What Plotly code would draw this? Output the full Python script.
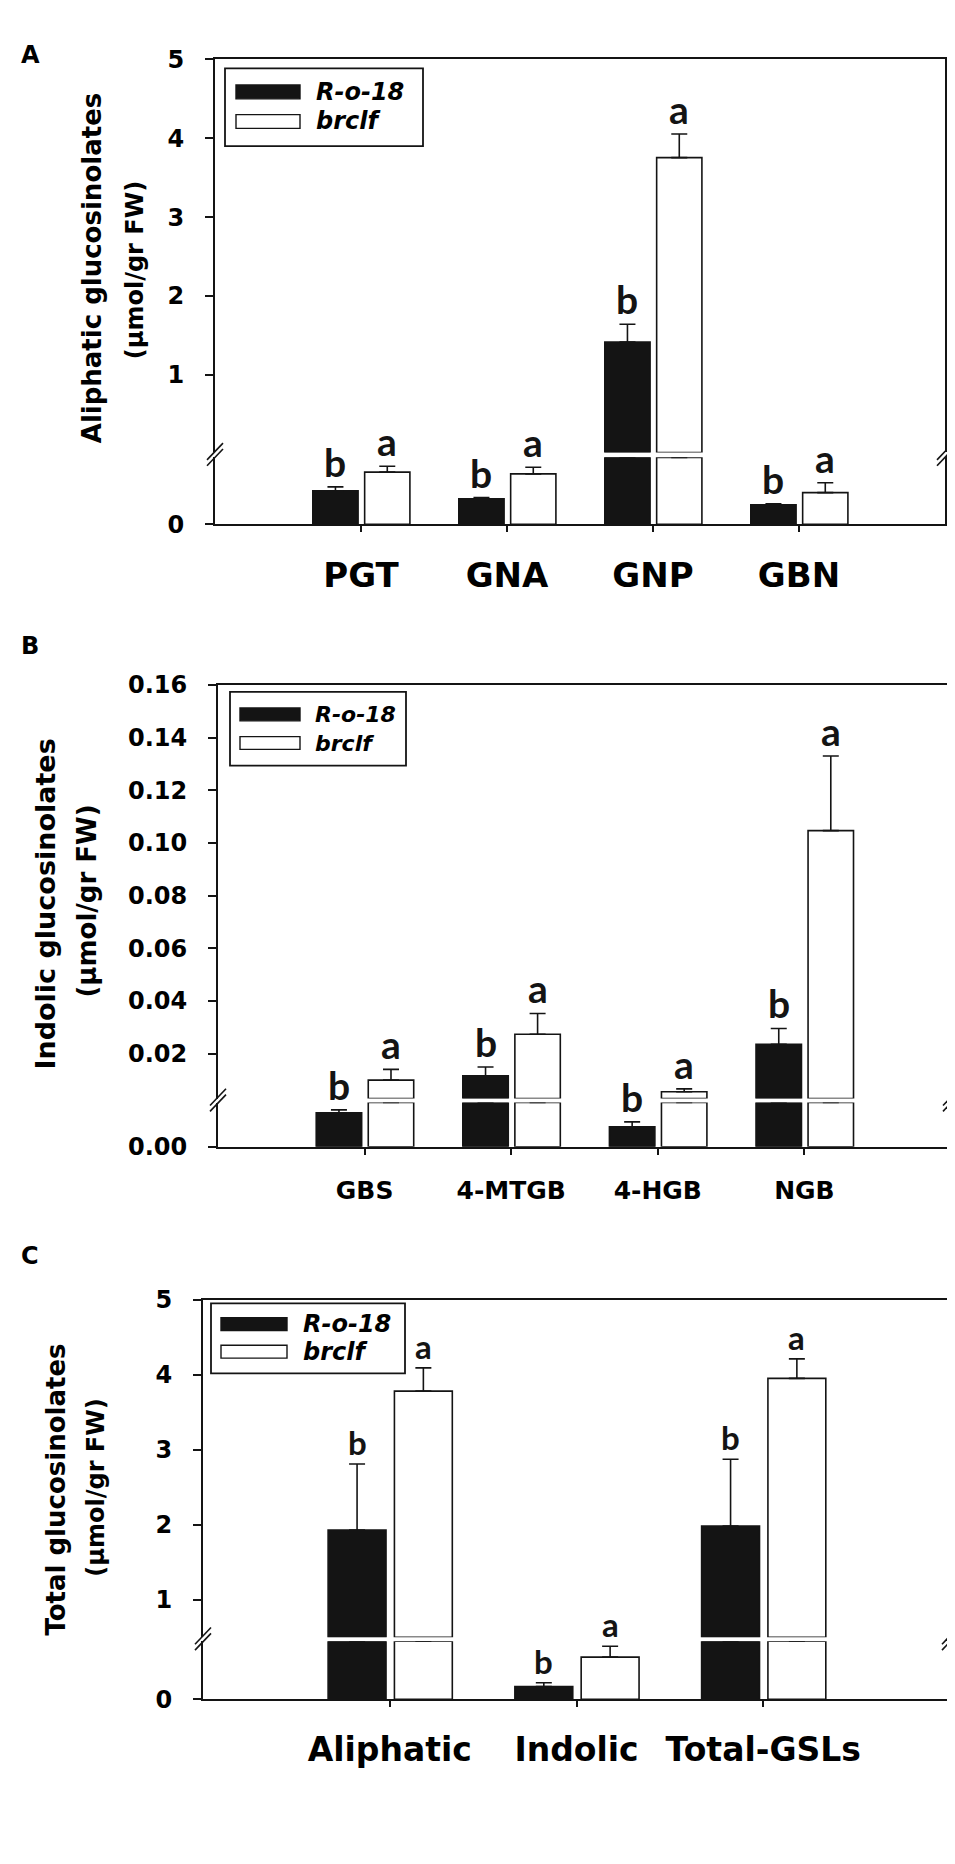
import plotly.graph_objects as go

W, H = 955, 1864

# ---- values (mean, upper error bar) ----
cats_a = ["PGT", "GNA", "GNP", "GBN"]
ro18_a = [0.0075, 0.0057, 1.416, 0.0044]
ro18_a_err = [0.0009, 0.0003, 0.225, 0.0002]
brclf_a = [0.0117, 0.0113, 3.754, 0.0071]
brclf_a_err = [0.0013, 0.0015, 0.300, 0.0022]
ro18_a_sig = ["b", "b", "b", "b"]
brclf_a_sig = ["a", "a", "a", "a"]

cats_b = ["GBS", "4-MTGB", "4-HGB", "NGB"]
ro18_b = [0.0023, 0.0116, 0.00135, 0.0236]
ro18_b_err = [0.0002, 0.0034, 0.00034, 0.0060]
brclf_b = [0.0100, 0.0274, 0.0056, 0.1047]
brclf_b_err = [0.0041, 0.0079, 0.0011, 0.0283]
ro18_b_sig = ["b", "b", "b", "b"]
brclf_b_sig = ["a", "a", "a", "a"]

cats_c = ["Aliphatic", "Indolic", "Total-GSLs"]
ro18_c = [1.929, 0.110, 1.982]
ro18_c_err = [0.880, 0.034, 0.890]
brclf_c = [3.780, 0.364, 3.950]
brclf_c_err = [0.310, 0.093, 0.260]
ro18_c_sig = ["b", "b", "b"]
brclf_c_sig = ["a", "a", "a"]

# ---- styling / layout (pixel positions) ----
INK = "#141414"
BOLD = "DejaVu Sans"
SIGFONT = "Lato"
BW = 0.31
OFF_RO18 = -0.33
OFF_BRCLF = 0.025

panels = [
    dict(tag="A", cats=cats_a,
         ro18=(ro18_a, ro18_a_err, ro18_a_sig), brclf=(brclf_a, brclf_a_err, brclf_a_sig),
         brk=0.015, top=5, yticks=[1, 2, 3, 4, 5], fmt="d", zero="0",
         xpx=(207, 937), up=(38, 437), low=(442, 510), xfont=34, sigsize=39,
         tag_xy=(11, 17), t1=("Aliphatic glucosinolates", 84, 250, 26),
         t2=("(µmol/gr FW)", 127, 252, 24),
         leg=dict(box=(217, 47, 415, 126), sw=(228, 292), rows=(71, 101), h=14, tx=306, fs=24)),
    dict(tag="B", cats=cats_b,
         ro18=(ro18_b, ro18_b_err, ro18_b_sig), brclf=(brclf_b, brclf_b_err, brclf_b_sig),
         brk=0.003, top=0.16, yticks=[0.02, 0.04, 0.06, 0.08, 0.10, 0.12, 0.14, 0.16], fmt=".2f",
         zero="0.00",
         xpx=(210, 943), up=(673, 1093), low=(1097, 1142), xfont=25, sigsize=39,
         tag_xy=(11, 634), t1=("Indolic glucosinolates", 38, 896, 27),
         t2=("(µmol/gr FW)", 79, 893, 26),
         leg=dict(box=(222, 680, 398, 755), sw=(232, 292), rows=(703, 732), h=13, tx=305, fs=22)),
    dict(tag="C", cats=cats_c,
         ro18=(ro18_c, ro18_c_err, ro18_c_sig), brclf=(brclf_c, brclf_c_err, brclf_c_sig),
         brk=0.5, top=5, yticks=[1, 2, 3, 4, 5], fmt="d", zero="0",
         xpx=(195, 942), up=(1297, 1640), low=(1644, 1703), xfont=33, sigsize=33,
         tag_xy=(11, 1269), t1=("Total glucosinolates", 48, 1490, 26),
         t2=("(µmol/gr FW)", 88, 1488, 24),
         leg=dict(box=(203, 1301, 397, 1372), sw=(213, 279), rows=(1322, 1350), h=13, tx=293, fs=24)),
]


def xp(px):
    return px / W


def yp(py):
    return 1 - py / H


def sfx(n):
    return "" if n == 1 else str(n)


fig = go.Figure()
shapes = []
annotations = []
layout_axes = {}

for i, p in enumerate(panels):
    lo, hi = 2 * i + 1, 2 * i + 2
    xl, xh, yl, yh = "x" + sfx(lo), "x" + sfx(hi), "y" + sfx(lo), "y" + sfx(hi)
    pos = list(range(len(p["cats"])))
    b = p["brk"]

    for name, (vals, errs, sig), fill, off in [("R-o-18", p["ro18"], INK, OFF_RO18),
                                               ("brclf", p["brclf"], "white", OFF_BRCLF)]:
        bar_style = dict(offset=off, width=BW, showlegend=False, name=name, cliponaxis=False,
                         marker=dict(color=fill, line=dict(color=INK, width=1.6)))
        err_style = dict(type="data", symmetric=False, color=INK, thickness=1.6, width=8)

        # lower segment of the broken axis
        fig.add_trace(go.Bar(
            x=pos, y=[min(v, b) for v in vals],
            error_y=dict(array=[e if v < b else None for v, e in zip(vals, errs)],
                         arrayminus=[0 if v < b else None for v in vals], **err_style),
            xaxis=xl, yaxis=yl, **bar_style))
        # upper segment
        fig.add_trace(go.Bar(
            x=pos, y=[v - b if v > b else None for v in vals], base=b,
            error_y=dict(array=[e if v > b else None for v, e in zip(vals, errs)],
                         arrayminus=[0 if v > b else None for v in vals], **err_style),
            xaxis=xl.replace(xl, xh), yaxis=yh, **bar_style))

        # significance letters
        for k, (v, e, s) in enumerate(zip(vals, errs, sig)):
            annotations.append(dict(
                x=k + off + BW / 2, y=v + e, xref=xl if v < b else xh, yref=yl if v < b else yh,
                text=s, showarrow=False, yanchor="bottom", xanchor="center",
                font=dict(family=SIGFONT, size=p["sigsize"], color=INK, weight="bold")))

    xd = [xp(p["xpx"][0]), xp(p["xpx"][1])]
    axis_common = dict(showgrid=False, zeroline=False, showline=True, linecolor=INK, linewidth=2)
    layout_axes["xaxis" + sfx(lo)] = dict(
        domain=xd, range=[-1, len(pos)], anchor=yl, tickvals=pos, ticktext=p["cats"],
        ticks="outside", ticklen=6, tickwidth=1.6, tickcolor=INK, ticklabelstandoff=14,
        tickfont=dict(family=BOLD, size=p["xfont"], color="black", weight="bold"), **axis_common)
    layout_axes["xaxis" + sfx(hi)] = dict(
        domain=xd, matches=xl, anchor=yh, side="top", showticklabels=False, ticks="",
        **axis_common)
    ytick_font = dict(family=BOLD, size=24, color="black", weight="bold")
    layout_axes["yaxis" + sfx(lo)] = dict(
        domain=[yp(p["low"][1]), yp(p["low"][0])], range=[0, b], anchor=xl, mirror=True,
        tickvals=[0], ticktext=[p["zero"]], ticks="outside", ticklen=8, tickwidth=1.6,
        tickcolor=INK, ticklabelstandoff=16, tickfont=ytick_font, **axis_common)
    layout_axes["yaxis" + sfx(hi)] = dict(
        domain=[yp(p["up"][1]), yp(p["up"][0])], range=[b, p["top"]], anchor=xh, mirror=True,
        tickvals=p["yticks"], tickformat=p["fmt"], ticks="outside", ticklen=8, tickwidth=1.6,
        tickcolor=INK, ticklabelstandoff=16, tickfont=ytick_font, **axis_common)

    # axis-break marks, left and right
    cy = (p["up"][1] + p["low"][0]) / 2
    for cx in p["xpx"]:
        for d in (-3, 3):
            shapes.append(dict(type="line", xref="paper", yref="paper",
                               x0=xp(cx - 8), y0=yp(cy + 8 + d), x1=xp(cx + 8), y1=yp(cy - 9 + d),
                               line=dict(color=INK, width=1.6)))

    # legend box drawn by hand (wide swatches)
    lg = p["leg"]
    bx0, by0, bx1, by1 = lg["box"]
    shapes.append(dict(type="rect", xref="paper", yref="paper", x0=xp(bx0), y0=yp(by1),
                       x1=xp(bx1), y1=yp(by0), line=dict(color=INK, width=1.8),
                       fillcolor="white", layer="above"))
    for (label, fill), ry in zip([("R-o-18", INK), ("brclf", "white")], lg["rows"]):
        shapes.append(dict(type="rect", xref="paper", yref="paper",
                           x0=xp(lg["sw"][0]), x1=xp(lg["sw"][1]),
                           y0=yp(ry + lg["h"] / 2), y1=yp(ry - lg["h"] / 2),
                           fillcolor=fill, line=dict(color=INK, width=1.4), layer="above"))
        annotations.append(dict(x=xp(lg["tx"]), y=yp(ry), xref="paper", yref="paper",
                                text=label, showarrow=False, xanchor="left", yanchor="middle",
                                font=dict(family=BOLD, size=lg["fs"], color="black",
                                          weight="bold", style="italic")))

    # panel tag and y-axis titles
    annotations.append(dict(x=xp(p["tag_xy"][0]), y=yp(p["tag_xy"][1]), xref="paper",
                            yref="paper", text=p["tag"], showarrow=False,
                            font=dict(family=BOLD, size=24, color="black", weight="bold")))
    for txt, tx, ty, fs in (p["t1"], p["t2"]):
        annotations.append(dict(x=xp(tx), y=yp(ty), xref="paper", yref="paper", text=txt,
                                textangle=-90, showarrow=False, xanchor="center",
                                yanchor="middle",
                                font=dict(family=BOLD, size=fs, color="black", weight="bold")))

fig.update_layout(
    width=W, height=H, margin=dict(l=0, r=0, t=0, b=0),
    paper_bgcolor="white", plot_bgcolor="white",
    barmode="overlay", showlegend=False,
    shapes=shapes, annotations=annotations, **layout_axes)

fig.write_html("out.html")
